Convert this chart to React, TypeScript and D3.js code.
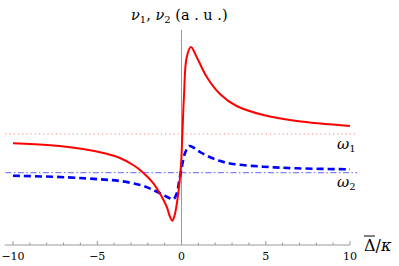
import React from 'react';
import * as d3 from 'd3';

// detuning (Δ̄/κ) sample points
const redX = [-10, -7.8, -5.85, -4.5, -3.65, -2.87, -2.46, -2.07, -1.67, -1.32, -0.88, -0.7, -0.55, -0.42, -0.19, -0.03, 0.05, 0.15, 0.3, 0.56, 0.9, 1.5, 2.28, 3.27, 4.86, 6.84, 10];
const redY = [1.017, 0.997, 0.96, 0.915, 0.87, 0.8, 0.75, 0.69, 0.617, 0.527, 0.383, 0.29, 0.243, 0.29, 0.517, 0.8, 1.1, 1.5, 1.87, 1.98, 1.88, 1.68, 1.51, 1.39, 1.3, 1.24, 1.19];

const blueX = [-10, -6.8, -4.84, -3.65, -2.46, -1.67, -0.88, -0.49, -0.28, -0.13, 0.01, 0.21, 0.46, 0.7, 1.1, 1.6, 2.2, 2.88, 4.86, 6.84, 10];
const blueY = [0.693, 0.677, 0.657, 0.64, 0.6, 0.55, 0.483, 0.457, 0.517, 0.65, 0.77, 0.92, 0.99, 0.975, 0.93, 0.885, 0.845, 0.815, 0.783, 0.767, 0.757];

const omega1 = 1.11;
const omega2 = 0.723;
const lineExtent = [-10.45, 10.43];
const axisExtent = [-10.5, 10];

const majorTicks = [-10, -5, 0, 5, 10];
const minorTicks = d3.range(-10, 11).filter(t => !majorTicks.includes(t));

const W = 399;
const H = 266;
const SERIF = "DejaVu Serif, serif";

const App: React.FC = () => {
  const svgRef = React.useRef<SVGSVGElement>(null);

  React.useEffect(() => {
    if (!svgRef.current) return;
    const svg = d3.select(svgRef.current);
    svg.selectAll("*").remove();

    const x = d3.scaleLinear().domain([-10, 10]).range([13, 350]);
    const y = d3.scaleLinear().domain([0, 2.15]).range([245, 30]);

    // reference lines
    svg.append("line")
      .attr("x1", x(lineExtent[0])).attr("x2", x(lineExtent[1]))
      .attr("y1", y(omega1)).attr("y2", y(omega1))
      .attr("stroke", "#ff8080").attr("stroke-width", 1.2)
      .attr("stroke-dasharray", "1.2,3");

    svg.append("line")
      .attr("x1", x(lineExtent[0])).attr("x2", x(lineExtent[1]))
      .attr("y1", y(omega2)).attr("y2", y(omega2))
      .attr("stroke", "#8080ff").attr("stroke-width", 1.2)
      .attr("stroke-dasharray", "6,2.5,1.5,2.5");

    // axes
    const axisColor = "#999";
    svg.append("line")
      .attr("x1", x(axisExtent[0])).attr("x2", x(axisExtent[1]))
      .attr("y1", y(0)).attr("y2", y(0))
      .attr("stroke", axisColor).attr("stroke-width", 1);

    svg.append("line")
      .attr("x1", x(0)).attr("x2", x(0))
      .attr("y1", y(0)).attr("y2", y(2.15))
      .attr("stroke", axisColor).attr("stroke-width", 1);

    svg.selectAll(".major")
      .data(majorTicks).enter().append("line")
      .attr("x1", d => x(d)).attr("x2", d => x(d))
      .attr("y1", y(0)).attr("y2", y(0) - 4)
      .attr("stroke", axisColor);

    svg.selectAll(".minor")
      .data(minorTicks).enter().append("line")
      .attr("x1", d => x(d)).attr("x2", d => x(d))
      .attr("y1", y(0)).attr("y2", y(0) - 2.5)
      .attr("stroke", axisColor);

    svg.selectAll(".tlabel")
      .data(majorTicks).enter().append("text")
      .attr("x", d => x(d)).attr("y", y(0) + 15)
      .attr("text-anchor", "middle")
      .attr("font-family", SERIF).attr("font-size", 11)
      .text(d => (d < 0 ? "\u2212" + Math.abs(d) : String(d)));

    // curves
    const line = d3.line<[number, number]>()
      .x(d => x(d[0])).y(d => y(d[1]))
      .curve(d3.curveCatmullRom.alpha(0.5));

    svg.append("path")
      .attr("d", line(blueX.map((v, i) => [v, blueY[i]] as [number, number])))
      .attr("fill", "none").attr("stroke", "#0000ff")
      .attr("stroke-width", 2.6).attr("stroke-dasharray", "7,4");

    svg.append("path")
      .attr("d", line(redX.map((v, i) => [v, redY[i]] as [number, number])))
      .attr("fill", "none").attr("stroke", "#ff0000")
      .attr("stroke-width", 2);

    // labels
    const title = svg.append("text")
      .attr("x", 131).attr("y", 20)
      .attr("font-family", SERIF).attr("font-size", 14.5);
    title.append("tspan").attr("font-style", "italic").text("\u03bd");
    title.append("tspan").attr("dy", 3).attr("font-size", 10).text("1");
    title.append("tspan").attr("dy", -3).text(", ");
    title.append("tspan").attr("font-style", "italic").text("\u03bd");
    title.append("tspan").attr("dy", 3).attr("font-size", 10).text("2");
    title.append("tspan").attr("dy", -3).text(" (a . u .)");

    const w1 = svg.append("text")
      .attr("x", 337).attr("y", 149)
      .attr("font-family", SERIF).attr("font-size", 15);
    w1.append("tspan").attr("font-style", "italic").text("\u03c9");
    w1.append("tspan").attr("dy", 3).attr("font-size", 10).text("1");

    const w2 = svg.append("text")
      .attr("x", 337).attr("y", 187)
      .attr("font-family", SERIF).attr("font-size", 15);
    w2.append("tspan").attr("font-style", "italic").text("\u03c9");
    w2.append("tspan").attr("dy", 3).attr("font-size", 10).text("2");

    const xl = svg.append("text")
      .attr("x", 364).attr("y", 251)
      .attr("font-family", SERIF).attr("font-size", 16);
    xl.append("tspan").text("\u0394");
    xl.append("tspan").text("/");
    xl.append("tspan").attr("font-style", "italic").text("\u03ba");
    svg.append("line")
      .attr("x1", 364).attr("x2", 375)
      .attr("y1", 236).attr("y2", 236)
      .attr("stroke", "#000").attr("stroke-width", 1);
  }, []);

  return (
    <svg ref={svgRef} width={W} height={H} viewBox={`0 0 ${W} ${H}`}
      style={{ position: 'absolute', left: 0, top: 0, background: '#fff' }} />
  );
};

export default App;
